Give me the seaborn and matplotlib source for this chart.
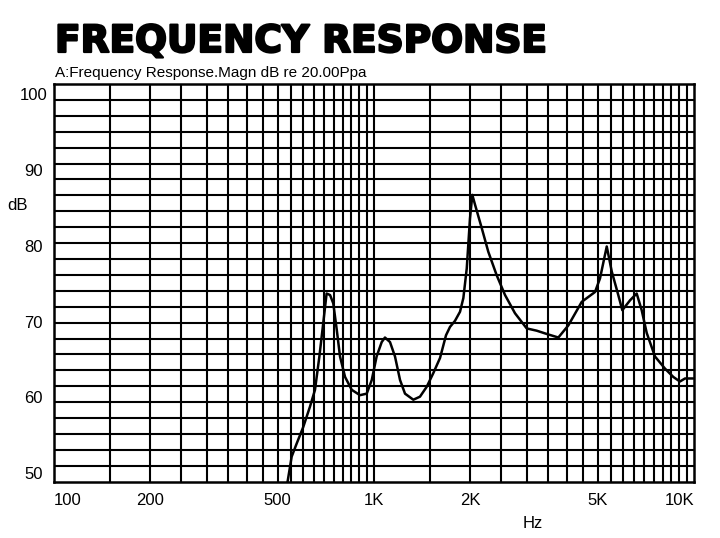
import numpy as np
import pandas as pd
import matplotlib
matplotlib.use('Agg')
import matplotlib.pyplot as plt
import matplotlib.patheffects as pe
import seaborn as sns

# frequency response (Hz, dB)
freq_hz = [536, 553, 573, 601, 631, 654, 675, 694, 711, 729, 746, 765, 783, 812,
           852, 904, 949, 984, 1019, 1057, 1082, 1122, 1163, 1206, 1250, 1327,
           1392, 1461, 1532, 1608, 1679, 1728, 1791, 1857, 1902, 1949, 1995, 2029,
           2069, 2172, 2276, 2418, 2567, 2758, 3000, 3224, 3506, 3768, 4049, 4458,
           4905, 5085, 5337, 5533, 5799, 5970, 6310, 6620, 6863, 7116, 7551, 8116,
           8616, 9036, 9374, 9948]
level_db = [48.7, 52.2, 53.9, 56.1, 58.8, 61.0, 65.4, 69.8, 73.7, 73.5, 72.4, 68.9,
            65.4, 62.7, 61.0, 60.3, 60.5, 62.3, 65.4, 67.3, 67.9, 67.3, 65.4, 62.3,
            60.5, 59.7, 60.1, 61.4, 63.2, 65.2, 68.2, 69.3, 70.1, 71.3, 73.1, 77.0,
            83.6, 86.7, 85.4, 82.3, 79.2, 76.1, 73.5, 71.1, 69.1, 68.8, 68.3, 67.9,
            69.5, 72.6, 73.9, 75.7, 79.9, 76.6, 73.5, 71.5, 72.8, 73.7, 71.5, 68.5,
            65.4, 63.8, 62.7, 62.1, 62.5, 62.5]

x_ticks = [100, 200, 500, 1000, 2000, 5000, 10000]
x_labels = ['100', '200', '500', '1K', '2K', '5K', '10K']
y_ticks = [50, 60, 70, 80, 90, 100]

df = pd.DataFrame({'Hz': freq_hz, 'dB': level_db})

sns.set_theme(style='white')
plt.rcParams['font.family'] = ['Liberation Sans', 'DejaVu Sans']
plt.rcParams['text.color'] = 'black'

fig = plt.figure(figsize=(7.2, 5.38), dpi=100)
ax = fig.add_axes([0.075, 0.1046, 0.8889, 0.7393])

y_lo, y_hi = 48.89, 101.32
ax.set_xscale('log')
ax.set_xlim(100, 10000)
ax.set_ylim(y_lo, y_hi)

# graph-paper grid
vlines = np.concatenate([np.arange(150, 1000, 50), np.arange(1000, 10000, 500)])
for v in vlines:
    ax.axvline(v, color='black', lw=1.5, zorder=1)
for h in np.linspace(y_lo, y_hi, 26)[1:-1]:
    ax.axhline(h, color='black', lw=1.5, zorder=1)

sns.lineplot(data=df, x='Hz', y='dB', ax=ax, color='black', lw=1.8, sort=False, zorder=3)

for s in ax.spines.values():
    s.set_color('black')
    s.set_linewidth(1.8)

ax.set_xticks(x_ticks)
ax.set_xticklabels(x_labels)
ax.xaxis.set_minor_locator(matplotlib.ticker.NullLocator())
ax.set_yticks(y_ticks)
ax.tick_params(axis='both', length=0, labelsize=12, colors='black')
ax.tick_params(axis='x', pad=8)
ax.tick_params(axis='y', pad=15)
for lab in ax.get_yticklabels():
    lab.set_horizontalalignment('center')
xl = ax.get_xticklabels()
xl[0].set_horizontalalignment('left')
xl[-1].set_horizontalalignment('right')
ax.set_xlabel('')
ax.set_ylabel('')

fig.text(18 / 720, 1 - 205 / 538, 'dB', fontsize=12, ha='center', va='center')
fig.text(533 / 720, 1 - 524 / 538, 'Hz', fontsize=12, ha='center', va='center')
fig.text(55 / 720, 1 - 42 / 538, 'FREQUENCY RESPONSE', fontsize=27,
         fontweight='bold', family=['DejaVu Sans'], ha='left', va='center',
         path_effects=[pe.withStroke(linewidth=1.6, foreground='black')])
fig.text(55 / 720, 1 - 73 / 538, 'A:Frequency Response.Magn dB re 20.00Ppa',
         fontsize=11, ha='left', va='center')

fig.savefig('out.png', dpi=100, facecolor='white')
